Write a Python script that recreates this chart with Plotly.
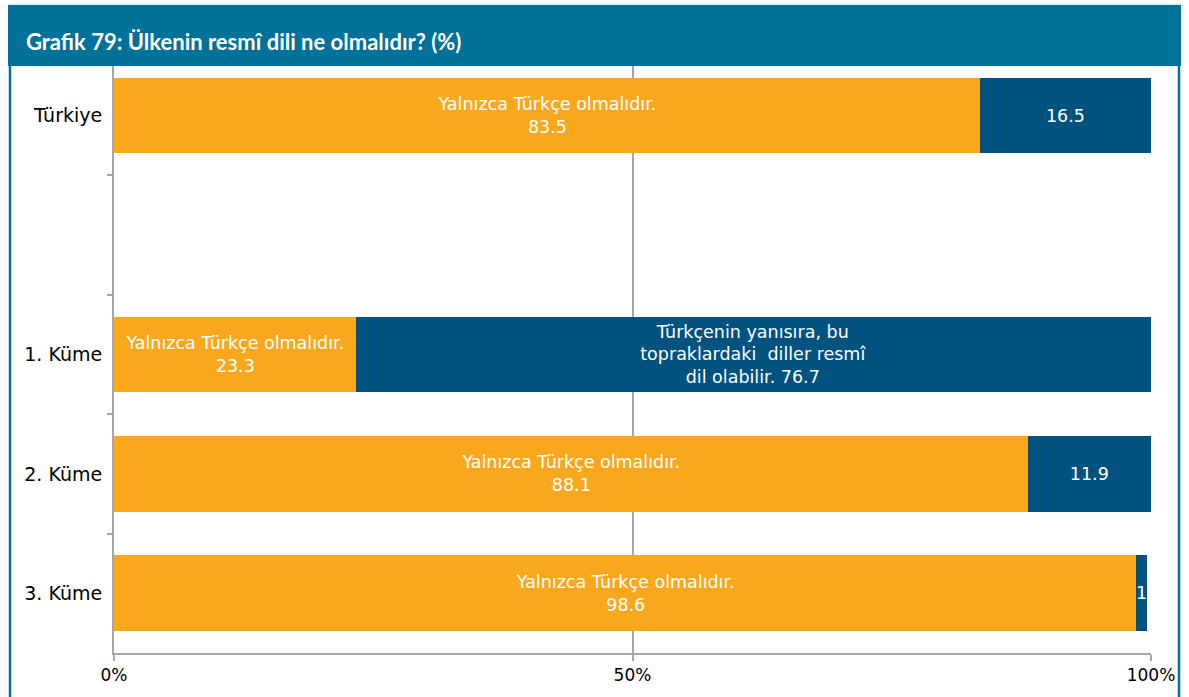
import plotly.graph_objects as go

# Survey answers per group (percent of respondents)
categories = ["Türkiye", " ", "1. Küme", "2. Küme", "3. Küme"]
only_turkish = [83.5, None, 23.3, 88.1, 98.6]
also_local = [16.5, None, 76.7, 11.9, 1]

only_turkish_text = [
    "Yalnızca Türkçe olmalıdır.<br>83.5",
    "",
    "Yalnızca Türkçe olmalıdır.<br>23.3",
    "Yalnızca Türkçe olmalıdır.<br>88.1",
    "Yalnızca Türkçe olmalıdır.<br>98.6",
]
also_local_text = [
    "16.5",
    "",
    "Türkçenin yanısıra, bu<br>topraklardaki  diller resmî<br>dil olabilir. 76.7",
    "11.9",
    "1",
]
x_ticks = [0, 50, 100]
x_tick_labels = ["0%", "50%", "100%"]
title_text = "Grafik 79: Ülkenin resmî dili ne olmalıdır? (%)"

ORANGE = "#F9A81E"
NAVY = "#02527F"
TEAL = "#007198"
GRID = "#A6A6A6"
FONT = "DejaVu Sans"

W, H = 1189, 697
L, R, T, B = 114, 38, 66, 44
pw, ph = W - L - R, H - T - B


def px_x(x):
    return (x - L) / pw


def px_y(y):
    return (H - B - y) / ph


fig = go.Figure()
fig.add_trace(go.Bar(
    y=categories, x=only_turkish, orientation="h",
    marker=dict(color=ORANGE, line=dict(width=0)),
    text=only_turkish_text, textposition="inside", insidetextanchor="middle",
    constraintext="none",
    textfont=dict(color="white", size=17.5, family=FONT),
    name="Yalnızca Türkçe", hoverinfo="skip",
))
fig.add_trace(go.Bar(
    y=categories, x=also_local, orientation="h",
    marker=dict(color=NAVY, line=dict(width=0)),
    text=also_local_text, textposition="inside", insidetextanchor="middle",
    constraintext="none",
    textfont=dict(color="white", size=17.5, family=FONT),
    name="Diğer diller de", hoverinfo="skip",
))

shapes = [
    # title banner
    dict(type="rect", xref="paper", yref="paper",
         x0=px_x(8), x1=px_x(1181), y0=px_y(66), y1=px_y(5),
         fillcolor=TEAL, line=dict(width=0), layer="below"),
    # thin line above the banner
    dict(type="line", xref="paper", yref="paper",
         x0=px_x(8), x1=px_x(1181), y0=px_y(4), y1=px_y(4),
         line=dict(color="#C9DCE6", width=1)),
    # frame sides
    dict(type="line", xref="paper", yref="paper",
         x0=px_x(10), x1=px_x(10), y0=px_y(66), y1=px_y(700),
         line=dict(color=TEAL, width=2.5)),
    dict(type="line", xref="paper", yref="paper",
         x0=px_x(1179), x1=px_x(1179), y0=px_y(66), y1=px_y(700),
         line=dict(color=TEAL, width=2.5)),
]

fig.update_layout(
    width=W, height=H,
    margin=dict(l=L, r=R, t=T, b=B),
    barmode="stack", bargap=0.365,
    showlegend=False,
    plot_bgcolor="white", paper_bgcolor="white",
    font=dict(family=FONT, color="black"),
    shapes=shapes,
    annotations=[dict(
        text="<b>" + title_text + "</b>",
        xref="paper", yref="paper", x=px_x(24), y=px_y(41),
        xanchor="left", yanchor="middle", showarrow=False,
        font=dict(family="Lato", size=22, color="white"),
    )],
    xaxis=dict(
        range=[0, 100], tickvals=x_ticks, ticktext=x_tick_labels,
        showgrid=True, gridcolor=GRID, gridwidth=2, zeroline=False,
        showline=True, linecolor=GRID, linewidth=2,
        ticks="outside", ticklen=6, tickcolor=GRID, tickwidth=2,
        tickfont=dict(size=17, color="black"),
    ),
    yaxis=dict(
        type="category", categoryorder="array", categoryarray=categories,
        range=[4.5, -0.415],
        showgrid=False, zeroline=False,
        showline=True, linecolor=GRID, linewidth=2,
        ticks="outside", tickson="boundaries", ticklen=5,
        tickcolor=GRID, tickwidth=2,
        tickfont=dict(size=19, color="black"), ticklabelstandoff=6,
    ),
)

fig.write_html("out.html")
